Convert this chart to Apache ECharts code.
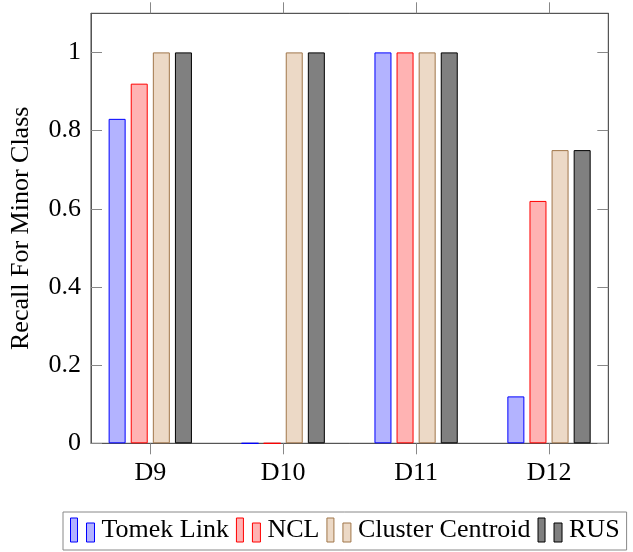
<!DOCTYPE html>
<html>
<head>
<meta charset="utf-8">
<script src="https://cdn.jsdelivr.net/npm/echarts@6/dist/echarts.min.js"></script>
<style>html,body{margin:0;padding:0;background:#fff;}#c{width:633px;height:552px;}</style>
</head>
<body>
<div id="c"></div>
<script>
var categories = ['D9', 'D10', 'D11', 'D12'];
var seriesNames = ['Tomek Link', 'NCL', 'Cluster Centroid', 'RUS'];
var tomekLink = [0.83, 0, 1, 0.12];
var ncl = [0.92, 0, 1, 0.62];
var clusterCentroid = [1, 1, 1, 0.75];
var rus = [1, 1, 1, 0.75];
var yTicks = [0, 0.2, 0.4, 0.6, 0.8, 1];

var fills = ['#b3b3ff', '#ffb3b3', '#ecd9c6', '#808080'];
var strokes = ['#0000ff', '#ff0000', '#a0764a', '#000000'];
var values = [tomekLink, ncl, clusterCentroid, rus];
var FONT = '"Liberation Serif", "Times New Roman", Times, serif';
var idx = categories.map(function (c, i) { return i; });

var chart = echarts.init(document.getElementById('c'));
var series = values.map(function (vals, s) {
  return {
    name: seriesNames[s],
    type: 'bar',
    xAxisIndex: 0,
    yAxisIndex: 0,
    barWidth: 17,
    barGap: '30%',
    data: vals.map(function (v, i) { return [i, v]; }),
    itemStyle: { color: fills[s], borderColor: strokes[s], borderWidth: 1 },
    emphasis: { disabled: true },
    silent: true
  };
});

function xAx(pos, showLabel) {
  return {
    type: 'value', position: pos, min: -0.446, max: 3.446,
    axisLine: { show: true, onZero: false, lineStyle: { color: '#555', width: 1 } },
    axisTick: { show: true, inside: false, length: 11, customValues: idx, lineStyle: { color: '#888' } },
    axisLabel: { show: showLabel, customValues: idx, margin: 17, color: '#000', fontFamily: FONT, fontSize: 26,
      formatter: function (v) { return categories[Math.round(v)]; } },
    splitLine: { show: false }
  };
}
function yAx(pos, showLabel) {
  var o = {
    type: 'value', position: pos, min: 0, max: 1.1,
    axisLine: { show: true, onZero: false, lineStyle: { color: '#555', width: 1 } },
    axisTick: { show: true, inside: true, length: 11, customValues: yTicks, lineStyle: { color: '#888' } },
    axisLabel: { show: showLabel, customValues: yTicks, margin: 10, color: '#000', fontFamily: FONT, fontSize: 26,
      formatter: function (v) { return String(Math.round(v * 10) / 10); } },
    splitLine: { show: false }
  };
  if (showLabel) {
    o.name = 'Recall For Minor Class';
    o.nameLocation = 'middle';
    o.nameRotate = 90;
    o.nameGap = 57;
    o.nameTextStyle = { color: '#000', fontFamily: FONT, fontSize: 26 };
  }
  return o;
}

chart.setOption({
  animation: false,
  grid: { left: 91, top: 13.3, width: 517.3, height: 430, show: true, borderColor: '#444', borderWidth: 1, backgroundColor: 'transparent' },
  xAxis: [xAx('bottom', true), xAx('top', false)],
  yAxis: [yAx('left', true), yAx('right', false)],
  legend: {
    show: true, left: 63, top: 512, orient: 'horizontal',
    data: seriesNames,
    icon: 'path://M0,0h7v24h-7z M16,5h8v19h-8z',
    itemWidth: 24, itemHeight: 24, itemGap: 7,
    padding: [5, 7, 7, 7],
    borderColor: '#888', borderWidth: 1,
    itemStyle: { borderWidth: 1 },
    textStyle: { color: '#000', fontFamily: FONT, fontSize: 26, padding: [4, 0, 0, 2] },
    selectedMode: false
  },
  series: series
});
</script>
</body>
</html>
